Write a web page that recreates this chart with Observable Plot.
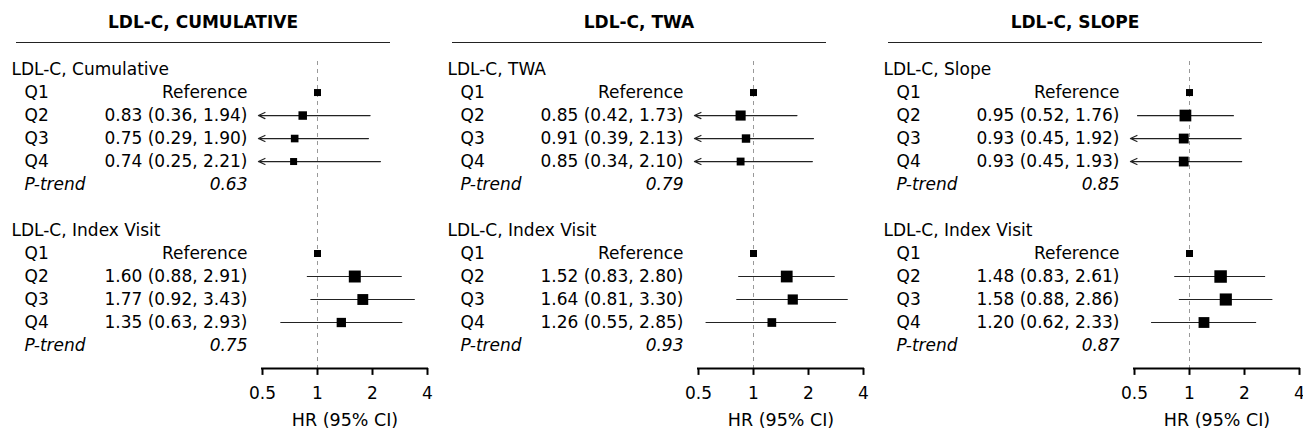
<!DOCTYPE html>
<html>
<head>
<meta charset="utf-8">
<script src="https://cdn.jsdelivr.net/npm/d3@7"></script>
<script src="https://cdn.jsdelivr.net/npm/@observablehq/plot@0.6"></script>
<style>
  html, body { margin: 0; padding: 0; background: #fff; overflow: hidden; }
  #row { display: flex; width: 1308px; }
  .panel { width: 436px; flex: 0 0 436px; }
  .head { height: 44px; position: relative; }
  .title { position: absolute; left: 16px; width: 374px; top: 0; height: 42px;
           font-family: "DejaVu Sans", sans-serif; font-weight: bold; font-size: 17px; line-height: 44px;
           border-bottom: 1.4px solid #222; text-align: center; color: #000; }
</style>
</head>
<body>
<div id="row"></div>
<script>
const panelTitles = ["LDL-C, CUMULATIVE", "LDL-C, TWA", "LDL-C, SLOPE"];
const firstGroupLabels = ["LDL-C, Cumulative", "LDL-C, TWA", "LDL-C, Slope"];
const secondGroupLabel = "LDL-C, Index Visit";
const quartiles = ["Q1", "Q2", "Q3", "Q4"];
const referenceLabel = "Reference";
const pTrendLabel = "P-trend";
// Q2–Q4 hazard ratios and 95% CI (Q1 is the reference)
const hrFirst = [[0.83, 0.75, 0.74], [0.85, 0.91, 0.85], [0.95, 0.93, 0.93]];
const loFirst = [[0.36, 0.29, 0.25], [0.42, 0.39, 0.34], [0.52, 0.45, 0.45]];
const hiFirst = [[1.94, 1.90, 2.21], [1.73, 2.13, 2.10], [1.76, 1.92, 1.93]];
const hrIndex = [[1.60, 1.77, 1.35], [1.52, 1.64, 1.26], [1.48, 1.58, 1.20]];
const loIndex = [[0.88, 0.92, 0.63], [0.83, 0.81, 0.55], [0.83, 0.88, 0.62]];
const hiIndex = [[2.91, 3.43, 2.93], [2.80, 3.30, 2.85], [2.61, 2.86, 2.33]];
const pFirst = [0.63, 0.79, 0.85];
const pIndex = [0.75, 0.93, 0.87];
const xTicks = [0.5, 1, 2, 4];
const axisLabel = "HR (95% CI)";
const clipLo = 0.475;      // lower display limit; CIs below it get an arrow
const minWeight = 1.92;    // minimum square weight (1/SE)

function buildRows(groupLabel, hr, lo, hi, p, offset) {
  const rows = [{row: offset, type: "group", label: groupLabel}];
  rows.push({row: offset + 1, type: "q", q: quartiles[0], hr: 1, ref: true, text: referenceLabel, w: minWeight});
  hr.forEach((h, k) => {
    const se = (Math.log(hi[k]) - Math.log(lo[k])) / (2 * 1.96);
    rows.push({row: offset + 2 + k, type: "q", q: quartiles[k + 1], hr: h, lo: lo[k], hi: hi[k], ref: false,
      text: `${h.toFixed(2)} (${lo[k].toFixed(2)}, ${hi[k].toFixed(2)})`, w: Math.max(1 / se, minWeight)});
  });
  rows.push({row: offset + 5, type: "p", label: pTrendLabel, text: p.toFixed(2)});
  return rows;
}

const container = document.getElementById("row");
panelTitles.forEach((title, i) => {
  const rows = [
    ...buildRows(firstGroupLabels[i], hrFirst[i], loFirst[i], hiFirst[i], pFirst[i], 0),
    ...buildRows(secondGroupLabel, hrIndex[i], loIndex[i], hiIndex[i], pIndex[i], 7)
  ];
  const groups = rows.filter(d => d.type === "group");
  const qs = rows.filter(d => d.type === "q");
  const ps = rows.filter(d => d.type === "p");
  const est = qs.filter(d => !d.ref);
  const arrows = est.filter(d => d.lo < xTicks[0]);
  const plain = est.filter(d => d.lo >= xTicks[0]);
  const axisRow = 13;

  const W = 436;
  const chart = Plot.plot({
    width: W, height: 392,
    marginLeft: 262, marginRight: W - 427, marginTop: 17, marginBottom: 68,
    style: {fontFamily: "DejaVu Sans, sans-serif", fontSize: "17px", color: "#000", background: "#fff", overflow: "visible"},
    x: {type: "log", domain: [xTicks[0], xTicks[xTicks.length - 1]], axis: null},
    y: {domain: [-0.35, axisRow], reverse: true, axis: null},
    r: {type: "linear", domain: [0, 1], range: [0, 2.06]},
    marks: [
      Plot.ruleX([1], {stroke: "#999", strokeDasharray: "4,4", strokeWidth: 1}),
      Plot.ruleY(plain, {y: "row", x1: "lo", x2: "hi", stroke: "#222", strokeWidth: 1.2}),
      Plot.arrow(arrows, {x1: "hi", x2: () => clipLo, y1: "row", y2: "row", stroke: "#222", strokeWidth: 1.2, headLength: 9, headAngle: 50}),
      Plot.dot(qs, {x: "hr", y: "row", r: "w", symbol: "square", fill: "#000", stroke: null}),
      Plot.text(groups, {y: "row", text: "label", frameAnchor: "left", textAnchor: "start", dx: -251, fill: "#000"}),
      Plot.text(qs, {y: "row", text: "q", frameAnchor: "left", textAnchor: "start", dx: -238, fill: "#000"}),
      Plot.text(qs, {y: "row", text: "text", frameAnchor: "left", textAnchor: "end", dx: -15, fill: "#000"}),
      Plot.text(ps, {y: "row", text: "label", frameAnchor: "left", textAnchor: "start", dx: -238, fontStyle: "italic", fill: "#000"}),
      Plot.text(ps, {y: "row", text: "text", frameAnchor: "left", textAnchor: "end", dx: -15, fontStyle: "italic", fill: "#000"}),
      // x axis: baseline, ticks and labels
      Plot.ruleY([axisRow], {x1: () => xTicks[0], x2: () => xTicks[xTicks.length - 1], stroke: "#000", strokeWidth: 2, strokeLinecap: "square"}),
      Plot.ruleX(xTicks, {x: d => d, y1: () => axisRow, y2: () => axisRow + 0.3, stroke: "#000", strokeWidth: 2}),
      Plot.text(xTicks, {x: d => d, y: () => axisRow, dy: 25, text: d => String(d), fill: "#000", fontSize: 17}),
      Plot.text([axisLabel], {frameAnchor: "bottom", dy: 57, fill: "#000", fontSize: 17.5})
    ]
  });

  const panel = document.createElement("div");
  panel.className = "panel";
  const head = document.createElement("div");
  head.className = "head";
  const t = document.createElement("div");
  t.className = "title";
  t.textContent = title;
  head.appendChild(t);
  panel.appendChild(head);
  panel.appendChild(chart);
  container.appendChild(panel);
});
</script>
</body>
</html>
